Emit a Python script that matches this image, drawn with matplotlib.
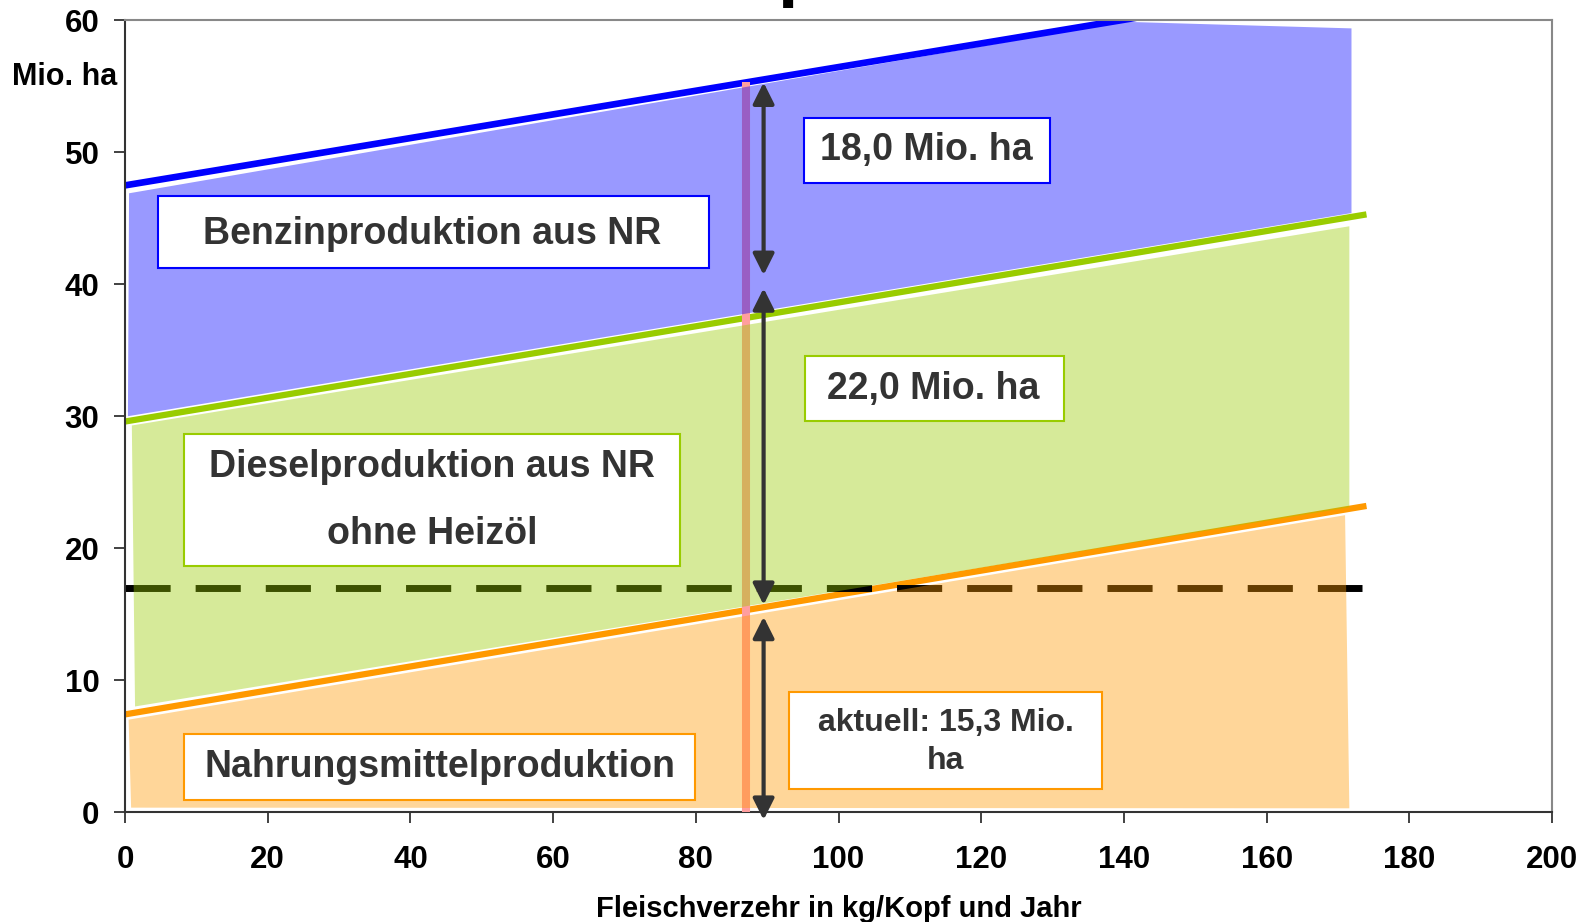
import numpy as np
import matplotlib.pyplot as plt
from matplotlib.patches import Polygon, Rectangle

plt.rcParams['font.family'] = ['Liberation Sans', 'DejaVu Sans']
plt.rcParams['font.weight'] = 'bold'

# Flächenbedarf in Mio. ha über dem Fleischverzehr
line_x = [0, 174]
benzin_y = [47.5, 63.1]
diesel_y = [29.6, 45.3]
nahrung_y = [7.4, 23.2]

# Flächen zwischen den Geraden (Eckpunkte)
nahrung_fl_x = [0.5, 171.0, 171.6, 0.85]
nahrung_fl_y = [7.0, 22.5, 0.28, 0.33]
diesel_fl_x = [0.95, 171.6, 171.6, 1.4]
diesel_fl_y = [29.3, 44.4, 23.1, 8.0]
benzin_fl_x = [0.56, 140.0, 171.9, 171.9, 0.4]
benzin_fl_y = [46.9, 59.9, 59.4, 45.4, 30.0]

schwelle_x = [0, 173.4]
schwelle_y = [17.0, 17.0]

fleisch_aktuell = 87
flaechen = [15.3, 22.0, 18.0]
flaechen_text = ['aktuell: 15,3 Mio.\nha', '22,0 Mio. ha', '18,0 Mio. ha']

blau = '#0000FF'
gruen = '#99CC00'
orange = '#FF9900'

fig = plt.figure(figsize=(15.89, 9.22), dpi=100)
ax = fig.add_axes([0.0787, 0.1193, 0.8980, 0.8585])

# Geraden
ax.plot(line_x, benzin_y, color=blau, lw=4.8, zorder=2, solid_capstyle='butt')
ax.plot(line_x, diesel_y, color=gruen, lw=4.5, zorder=2, solid_capstyle='butt')
ax.plot(line_x, nahrung_y, color=orange, lw=4.5, zorder=2, solid_capstyle='butt')

# gestrichelte Linie
ax.plot(schwelle_x, schwelle_y, color='black', lw=5, ls=(0, (6.5, 3.6)), zorder=2.5,
        solid_capstyle='butt', dash_capstyle='butt')

# senkrechte Linie beim aktuellen Verzehr
grenzen = np.cumsum(flaechen)
ax.plot([fleisch_aktuell, fleisch_aktuell], [0, grenzen[-1]], color='#FF9E9E', lw=5.8,
        zorder=2.6, solid_capstyle='butt')

# halbtransparente Flächen
for fx, fy, c in [(nahrung_fl_x, nahrung_fl_y, orange),
                  (diesel_fl_x, diesel_fl_y, gruen),
                  (benzin_fl_x, benzin_fl_y, blau)]:
    ax.add_patch(Polygon(np.column_stack([fx, fy]), closed=True, facecolor=c,
                         alpha=0.4, lw=0, zorder=3))

# Doppelpfeile
pfeil_x = fleisch_aktuell + 2.5
unten = [-0.6, grenzen[0] + 0.4, grenzen[1] + 3.4]
oben = [grenzen[0] - 0.5, grenzen[1] + 2.4, grenzen[2]]
for u, o in zip(unten, oben):
    ax.annotate('', xy=(pfeil_x, o), xytext=(pfeil_x, u),
                arrowprops=dict(arrowstyle='<|-|>', color='#333333', lw=3,
                                mutation_scale=32, shrinkA=0, shrinkB=0),
                zorder=4, annotation_clip=False)

# Beschriftungskästen
kaesten = [
    (4.6, 81.8, 41.2, 46.7, blau, 'Benzinproduktion aus NR', 43.1, 43.8, 27, 1.15),
    (8.3, 77.8, 18.67, 28.66, gruen, 'Dieselproduktion aus NR\n\nohne Heizöl', 43.0, 23.6, 27, 0.92),
    (8.3, 79.9, 0.94, 5.93, orange, 'Nahrungsmittelproduktion', 44.1, 3.4, 27, 1.15),
    (95.1, 129.6, 47.7, 52.6, blau, flaechen_text[2], 112.3, 50.15, 27, 1.15),
    (95.25, 131.6, 29.65, 34.6, gruen, flaechen_text[1], 113.3, 32.1, 27, 1.15),
    (93.0, 136.9, 1.71, 9.09, orange, flaechen_text[0], 115.0, 5.3, 23, 1.35),
]
for x0, x1, y0, y1, c, txt, tx, ty, fs, ls in kaesten:
    ax.add_patch(Rectangle((x0, y0), x1 - x0, y1 - y0, facecolor='white',
                           edgecolor=c, lw=1.5, zorder=5))
    ax.text(tx, ty, txt, ha='center', va='center', fontsize=fs, color='#333333',
            fontweight='bold', zorder=6, linespacing=ls)

ax.set_xlim(0, 200)
ax.set_ylim(0, 60)
ax.set_xticks(np.arange(0, 201, 20))
ax.set_yticks(np.arange(0, 61, 10))
ax.tick_params(axis='both', direction='out', length=8, width=1.3, color='#333333',
               labelsize=22.5)
ax.tick_params(axis='x', pad=15.5)
ax.tick_params(axis='y', pad=10.5)
for lab in ax.get_xticklabels() + ax.get_yticklabels():
    lab.set_fontweight('bold')

for s in ['left', 'bottom']:
    ax.spines[s].set_color('#333333')
    ax.spines[s].set_linewidth(1.5)
for s in ['top', 'right']:
    ax.spines[s].set_color('#888888')
    ax.spines[s].set_linewidth(1.5)

ax.set_xlabel('Fleischverzehr in kg/Kopf und Jahr', fontsize=21, fontweight='bold',
              labelpad=15)
fig.text(65 / 1589, 1 - 77 / 922, 'Mio. ha', ha='center', va='center', fontsize=22,
         fontweight='bold')

# Überschrift (über dem Rand)
fig.text(777 / 1589, 1 + 7 / 922, 'p', ha='left', va='baseline', fontsize=53,
         fontweight='bold')

fig.savefig('out.png', dpi=100)
